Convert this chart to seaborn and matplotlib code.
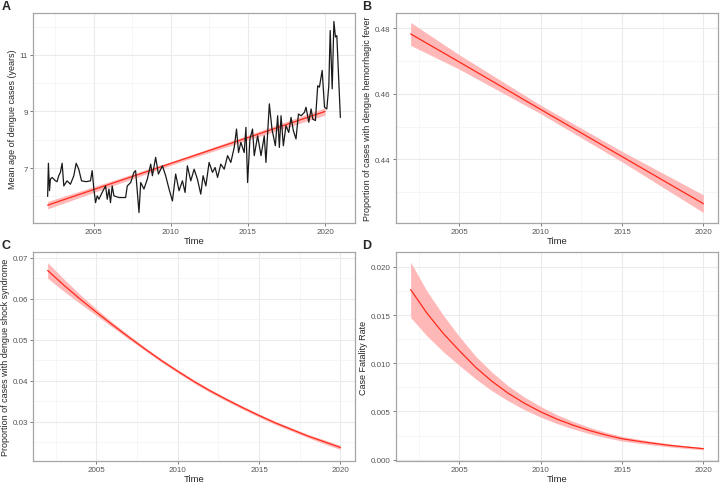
import numpy as np
import pandas as pd
import matplotlib
matplotlib.use("Agg")
import matplotlib.pyplot as plt
import seaborn as sns

# ---- Panel A: mean age of dengue cases ----
age_time = [2002.00, 2002.05, 2002.12, 2002.18, 2002.29, 2002.51, 2002.61, 2002.72, 2002.83, 2002.94,
            2003.05, 2003.26, 2003.48, 2003.70, 2003.85, 2004.02, 2004.20, 2004.50, 2004.78, 2004.89,
            2005.00, 2005.11, 2005.22, 2005.33, 2005.54, 2005.76, 2005.87, 2005.98, 2006.08, 2006.19,
            2006.30, 2006.63, 2007.06, 2007.17, 2007.39, 2007.60, 2007.71, 2007.93, 2008.04, 2008.25,
            2008.47, 2008.69, 2008.80, 2009.01, 2009.19, 2009.45, 2009.66, 2009.88, 2010.10, 2010.31,
            2010.53, 2010.75, 2010.92, 2011.07, 2011.29, 2011.51, 2011.72, 2011.94, 2012.09, 2012.27,
            2012.48, 2012.70, 2012.87, 2013.03, 2013.24, 2013.46, 2013.68, 2013.89, 2014.11, 2014.26,
            2014.39, 2014.54, 2014.76, 2014.87, 2014.98, 2015.13, 2015.30, 2015.41, 2015.63, 2015.85,
            2016.06, 2016.17, 2016.39, 2016.56, 2016.78, 2016.93, 2017.04, 2017.15, 2017.30, 2017.47,
            2017.65, 2017.80, 2017.95, 2018.12, 2018.28, 2018.45, 2018.67, 2018.77, 2018.95, 2019.10,
            2019.21, 2019.38, 2019.53, 2019.64, 2019.82, 2019.97, 2020.12, 2020.25, 2020.34, 2020.47,
            2020.58, 2020.68, 2020.77, 2021.00]
age_mean = [6.00, 7.17, 6.20, 6.61, 6.67, 6.55, 6.52, 6.73, 6.85, 7.17,
            6.37, 6.55, 6.43, 6.73, 7.17, 6.96, 6.55, 6.52, 6.55, 6.91,
            6.26, 5.78, 6.02, 5.90, 6.14, 6.37, 5.90, 6.26, 5.78, 6.37,
            6.02, 5.96, 5.96, 6.37, 6.49, 6.85, 6.91, 5.43, 6.49, 6.26,
            6.61, 7.14, 6.73, 7.38, 6.79, 7.08, 6.73, 6.26, 5.84, 6.79,
            6.20, 6.55, 6.14, 7.08, 6.55, 6.96, 6.61, 6.08, 6.73, 6.37,
            7.20, 6.85, 7.02, 6.67, 7.14, 6.96, 7.44, 7.20, 7.73, 8.38,
            7.55, 7.91, 7.55, 8.44, 6.49, 8.03, 8.38, 7.44, 8.14, 7.44,
            8.14, 7.20, 9.27, 8.38, 7.79, 8.85, 7.73, 8.85, 7.79, 8.50,
            8.26, 8.79, 8.32, 8.03, 8.91, 8.85, 8.97, 9.15, 8.62, 9.09,
            8.73, 8.68, 9.91, 9.86, 10.45, 9.15, 9.09, 9.91, 11.86, 9.80,
            12.18, 11.63, 11.68, 8.79]

# linear trend for panel A
age_fit_time = [2002, 2006.5, 2011, 2015.5, 2020]
age_fit = [5.69, 6.52, 7.35, 8.17, 9.00]
age_fit_lo = [5.56, 6.43, 7.29, 8.08, 8.87]
age_fit_hi = [5.82, 6.61, 7.41, 8.26, 9.13]

# ---- Panel B: dengue hemorrhagic fever ----
dhf_time = [2002, 2005, 2010, 2015, 2020]
dhf = [0.4783, 0.4697, 0.4552, 0.4408, 0.4264]
dhf_lo = [0.4748, 0.4675, 0.4539, 0.4392, 0.4237]
dhf_hi = [0.4818, 0.4719, 0.4565, 0.4424, 0.4291]

# ---- Panel C: dengue shock syndrome ----
years = list(range(2002, 2021))
dss = [0.0669, 0.0633, 0.0599, 0.0567, 0.0536, 0.0506, 0.0477, 0.0449, 0.0423, 0.0398,
       0.0375, 0.0354, 0.0334, 0.0315, 0.0297, 0.0281, 0.0265, 0.0251, 0.0237]
dss_lo = [0.0650, 0.0618, 0.0588, 0.0559, 0.0530, 0.0501, 0.0473, 0.0445, 0.0419, 0.0394,
          0.0371, 0.0350, 0.0330, 0.0311, 0.0293, 0.0277, 0.0261, 0.0246, 0.0232]
dss_hi = [0.0688, 0.0648, 0.0610, 0.0575, 0.0542, 0.0511, 0.0481, 0.0453, 0.0427, 0.0402,
          0.0379, 0.0358, 0.0338, 0.0319, 0.0301, 0.0285, 0.0269, 0.0256, 0.0242]

# ---- Panel D: case fatality rate ----
cfr = [0.01765, 0.01521, 0.01311, 0.01130, 0.00958, 0.00813, 0.00689, 0.00585, 0.00496, 0.00420,
       0.00357, 0.00302, 0.00256, 0.00217, 0.00191, 0.00168, 0.00147, 0.00130, 0.00114]
cfr_lo = [0.01475, 0.01285, 0.01121, 0.00977, 0.00838, 0.00715, 0.00610, 0.00518, 0.00441, 0.00374,
          0.00318, 0.00269, 0.00228, 0.00193, 0.00170, 0.00150, 0.00131, 0.00116, 0.00102]
cfr_hi = [0.02050, 0.01750, 0.01500, 0.01277, 0.01073, 0.00907, 0.00765, 0.00649, 0.00551, 0.00466,
          0.00396, 0.00335, 0.00284, 0.00241, 0.00212, 0.00186, 0.00162, 0.00143, 0.00126]

RED = "#FF2A1A"
FILL = "#FFB8B8"

sns.set_theme(style="white")
plt.rcParams["font.family"] = ["Liberation Sans", "DejaVu Sans"]


def style_axes(ax, xlim, ylim, yticks, yminor, ylabel):
    ax.set_xlim(*xlim)
    ax.set_ylim(*ylim)
    ax.set_xticks([2005, 2010, 2015, 2020])
    ax.set_xticklabels(["2005", "2010", "2015", "2020"])
    ax.set_xticks([2002.5, 2007.5, 2012.5, 2017.5], minor=True)
    ax.set_yticks(yticks)
    ax.set_yticks(yminor, minor=True)
    ax.grid(which="major", color="#EBEBEB", lw=0.8)
    ax.grid(which="minor", color="#F3F3F3", lw=0.5)
    ax.set_axisbelow(True)
    for s in ax.spines.values():
        s.set_color("#A6A6A6")
        s.set_linewidth(0.9)
    ax.tick_params(which="major", length=2.5, width=0.6, color="#666666",
                   labelsize=5.8, labelcolor="#555555", pad=1.2,
                   bottom=True, left=True)
    ax.tick_params(which="minor", length=0)
    ax.set_xlabel("Time", fontsize=6.8, labelpad=0.5)
    ax.set_ylabel(ylabel, fontsize=6.5, labelpad=2)


def ribbon(ax, t, mid, lo, hi):
    ax.fill_between(t, lo, hi, color=FILL, lw=0)
    sns.lineplot(x=t, y=mid, ax=ax, color=RED, lw=0.9)


fig = plt.figure(figsize=(7.2, 4.85), dpi=100)
W, H = 720, 485


def panel(l, t, r, b):
    return fig.add_axes([l / W, 1 - b / H, (r - l) / W, (b - t) / H])


axA = panel(33, 14, 355, 224)
axB = panel(396, 14, 718, 224)
axC = panel(33, 253, 355, 462)
axD = panel(396, 253, 718, 462)

# A
ribbon(axA, age_fit_time, age_fit, age_fit_lo, age_fit_hi)
sns.lineplot(x=age_time, y=age_mean, ax=axA, color="#1A1A1A", lw=0.9)
style_axes(axA, (2001.05, 2021.95), (5.06, 12.48), [7, 9, 11], [6, 8, 10, 12],
           "Mean age of dengue cases (years)")

# B
ribbon(axB, dhf_time, dhf, dhf_lo, dhf_hi)
style_axes(axB, (2001.1, 2020.9), (0.4205, 0.4847), [0.44, 0.46, 0.48], [0.43, 0.45, 0.47],
           "Proportion of cases with dengue hemorrhagic fever")
axB.set_yticklabels(["0.44", "0.46", "0.48"])

# C
ribbon(axC, years, dss, dss_lo, dss_hi)
style_axes(axC, (2001.1, 2020.9), (0.0204, 0.0714), [0.03, 0.04, 0.05, 0.06, 0.07],
           [0.025, 0.035, 0.045, 0.055, 0.065],
           "Proportion of cases with dengue shock syndrome")
axC.set_yticklabels(["0.03", "0.04", "0.05", "0.06", "0.07"])

# D
ribbon(axD, years, cfr, cfr_lo, cfr_hi)
style_axes(axD, (2001.1, 2020.9), (-0.00014, 0.02155), [0, 0.005, 0.01, 0.015, 0.02],
           [0.0025, 0.0075, 0.0125, 0.0175], "Case Fatality Rate")
axD.set_yticklabels(["0.000", "0.005", "0.010", "0.015", "0.020"])

for lab, x, y in [("A", 2, 1), ("B", 362, 1), ("C", 2, 240), ("D", 362, 240)]:
    fig.text(x / W, 1 - y / H, lab, fontsize=9, fontweight="bold", va="top", ha="left")

fig.savefig("out.png", dpi=100)
